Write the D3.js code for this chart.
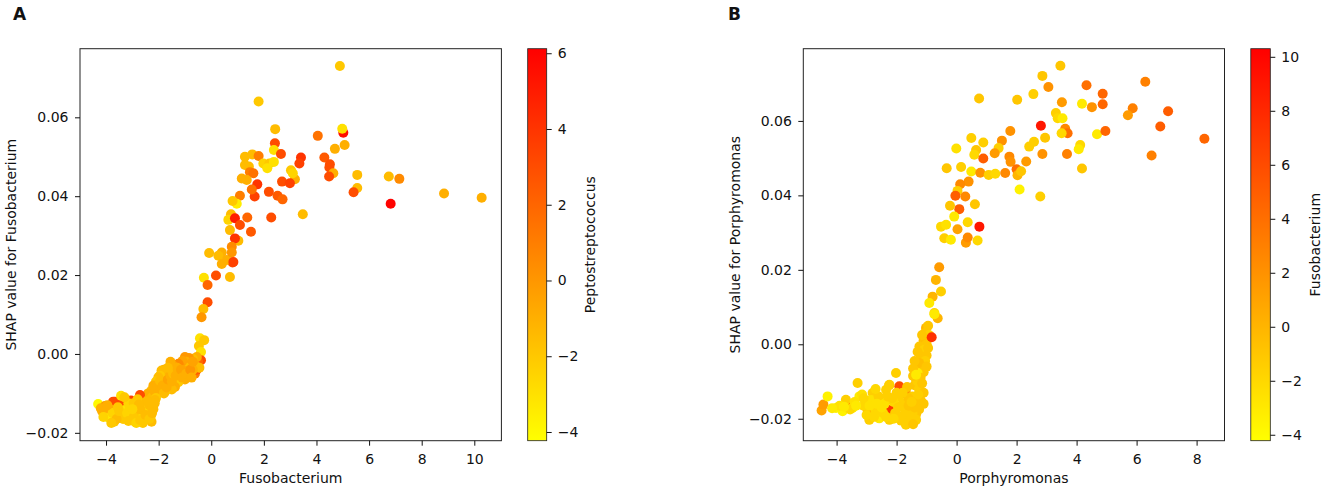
<!DOCTYPE html>
<html lang="en">
<head>
    <meta charset="UTF-8">
    <script src="https://d3js.org/d3.v7.min.js"></script>
    <title>SHAP dependence plots</title>
    <style>
        body { margin: 0; background: #fff; }
        text { font-family: "DejaVu Sans", sans-serif; fill: #111; }
    </style>
</head>
<body>
<div id="chart"></div>
<script>
    // panel A: [Fusobacterium, SHAP value for Fusobacterium, Peptostreptococcus]
    var fusoPoints = [
        [4.89,0.0730,-2],[1.80,0.0640,-2],[2.43,0.0570,-1.5],[5.02,0.0561,5.5],[4.98,0.0571,-3],
        [4.05,0.0553,1.5],[2.42,0.0534,3],[4.70,0.0520,-1],[5.07,0.0530,-1],[2.38,0.0517,-3],
        [2.65,0.0507,3],[1.28,0.0500,-1.5],[1.56,0.0506,-1.5],[1.80,0.0502,1],[3.41,0.0498,4],
        [3.35,0.0483,3.5],[4.30,0.0498,2.5],[4.51,0.0481,3],[4.49,0.0473,3],[4.64,0.0458,-1],
        [4.48,0.0450,3],[5.55,0.0454,-1.5],[5.55,0.0421,-1.5],[5.41,0.0410,3],[6.75,0.0450,-1.5],
        [7.15,0.0444,0.5],[6.82,0.0381,6],[8.85,0.0407,-1],[10.28,0.0396,-1],[3.48,0.0354,-1.5],
        [1.98,0.0483,-2.5],[2.21,0.0483,-2],[2.38,0.0487,-3],[2.13,0.0471,-3],[3.03,0.0466,-2],
        [3.18,0.0443,-1],[3.10,0.0458,-2.5],[2.69,0.0437,3],[2.99,0.0433,3.5],[1.75,0.0430,4],
        [1.65,0.0399,3.5],[2.19,0.0411,3],[2.52,0.0401,2.5],[2.71,0.0392,2],[1.37,0.0346,2],
        [2.28,0.0346,3],[1.51,0.0310,2.5],[1.28,0.0479,-1.5],[1.43,0.0475,-1.5],[1.47,0.0461,1],
        [1.60,0.0458,1.5],[1.16,0.0445,-1],[1.35,0.0441,-1],[1.54,0.0417,1.5],[1.09,0.0401,1],
        [0.97,0.0381,-3.5],[0.81,0.0388,-2],[0.75,0.0354,-1.5],[0.65,0.0340,-2.5],[0.90,0.0344,5],
        [1.09,0.0327,3],[0.71,0.0314,-1.5],[1.03,0.0287,-1.5],[0.90,0.0293,4],[0.78,0.0272,0.5],
        [0.81,0.0232,3],[0.40,0.0257,-1],[-0.08,0.0256,-1.5],[0.27,0.0249,-1.5],[0.40,0.0228,-1],
        [0.18,0.0199,3],[0.71,0.0195,-1.5],[-0.28,0.0193,-3],[0.59,0.0238,-1],[0.78,0.0257,0],
        [0.84,0.0233,3.5],[-0.14,0.0175,2],[-0.14,0.0131,3],[-0.30,0.0114,-1.5],[-0.37,0.0093,0],
        [-0.43,0.0040,-3],[-0.27,0.0035,-2],[-0.47,0.0020,-2],[-0.39,0.0005,-3],[-0.39,-0.0016,3],
        [-0.62,-0.0050,1],[-0.55,-0.0040,2.5],[-0.50,-0.0020,2],
        [-0.55,-0.0008,-1],[-0.70,-0.0012,-1.5],[-0.85,-0.0010,0],[-1.00,-0.0008,0],
        [-0.95,-0.0020,-1],[-0.78,-0.0025,-0.5],[-0.60,-0.0030,-1],[-0.45,-0.0035,-1.5],
        [-0.70,-0.0040,-1],[-0.88,-0.0035,-1.5],[-1.10,-0.0018,-0.5],[-1.20,-0.0030,0],[-1.05,-0.0042,-1],
        [-0.85,-0.0055,-1.5],[-1.25,-0.0025,0.5],[-1.35,-0.0040,-1],[-1.20,-0.0055,-1.5],[-1.00,-0.0065,-1],
        [-1.45,-0.0030,-0.5],[-1.55,-0.0045,-1],[-1.40,-0.0060,-1.5],[-1.25,-0.0072,-2],[-1.38,-0.0084,-1],
        [-1.60,-0.0062,-1],[-1.70,-0.0050,-1.5],[-1.80,-0.0040,-1],[-1.89,-0.0042,-1.5],[-1.95,-0.0055,-2],
        [-1.78,-0.0070,-1.5],[-1.60,-0.0078,-1],[-1.50,-0.0090,-1.5],[-2.01,-0.0059,-1.5],[-2.01,-0.0084,-1.5],
        [-2.10,-0.0070,-2],[-1.90,-0.0090,-1.5],[-2.27,-0.0092,-1.5],[-2.20,-0.0080,-1],[-1.75,-0.0095,-2],
        [-2.05,-0.0100,-1.5],[-2.40,-0.0100,-1],
        [-2.25,-0.0110,-1.5],[-2.15,-0.0095,-1],[-2.05,-0.0080,-1],[-1.95,-0.0068,-1.5],[-1.85,-0.0080,-1],
        [-1.80,-0.0100,-1.5],[-1.70,-0.0085,-1],[-1.65,-0.0065,-0.5],[-1.55,-0.0055,-1],[-1.50,-0.0070,-1],
        [-1.45,-0.0050,-1.5],[-1.35,-0.0055,-1],[-1.30,-0.0035,-1],[-1.15,-0.0040,-0.5],[-1.10,-0.0060,-1],
        [-0.95,-0.0050,-1],[-0.80,-0.0040,0],[-0.70,-0.0020,-0.5],[-0.75,-0.0060,-1],
        [-1.55,-0.0020,-1],[-1.65,-0.0035,-1.5],[-2.30,-0.0120,-1.5],[-2.10,-0.0112,-2],
        [-3.66,-0.0121,3.5],[-3.22,-0.0119,4],[-2.84,-0.0142,3],[-2.71,-0.0104,3],[-3.73,-0.0121,3],
        [-2.90,-0.0135,2.5],[-3.40,-0.0125,3],[-3.05,-0.0118,3.5],
        [-4.30,-0.0127,-4],[-4.04,-0.0132,0],[-3.92,-0.0161,-3.5],[-3.69,-0.0172,-2],
        [-3.43,-0.0106,-3],[-3.28,-0.0142,-3],
        [-2.90,-0.0172,-2],[-2.46,-0.0134,-1.5],[-2.27,-0.0172,-1.5],[-2.14,-0.0117,-1.5],[-3.15,-0.0125,-2.5],
        [-3.03,-0.0155,-2],[-2.65,-0.0159,-1.5],[-2.40,-0.0147,-2],[-3.85,-0.0140,-1],[-3.75,-0.0150,-2.5],
        [-3.55,-0.0135,-2],[-3.45,-0.0155,-3],[-3.35,-0.0165,-2],[-3.10,-0.0140,-2.5],[-2.95,-0.0125,-2],
        [-2.80,-0.0115,-2],[-2.75,-0.0160,-2.5],[-2.60,-0.0125,-2],[-2.55,-0.0145,-2.5],[-2.50,-0.0165,-2],
        [-2.35,-0.0130,-1.5],[-2.30,-0.0158,-2],[-2.20,-0.0140,-1.5],[-2.15,-0.0125,-1.5],[-3.60,-0.0165,-1.5],
        [-4.15,-0.0145,-1],[-3.30,-0.0110,-2],[-2.95,-0.0150,-1.5],[-2.60,-0.0175,-2],[-2.70,-0.0140,-1.5],
        [-4.20,-0.0138,-1],[-4.10,-0.0160,-2.5],[-3.95,-0.0130,-1],[-3.80,-0.0175,-2],[-3.50,-0.0145,-2],
        [-3.20,-0.0150,-2.5],[-3.15,-0.0170,-2],[-2.95,-0.0160,-2],[-2.85,-0.0175,-2.5],
        [-2.70,-0.0168,-2],[-2.50,-0.0155,-1.5],[-2.45,-0.0120,-1.5],[-2.35,-0.0165,-2],[-2.25,-0.0150,-1.5],
        [-2.75,-0.0128,-1.5],[-3.00,-0.0140,-2.5]
    ];

    // panel B: [Porphyromonas, SHAP value for Porphyromonas, Fusobacterium]
    var porphPoints = [
        [3.46,0.0748,-1],[2.86,0.0721,-1],[3.06,0.0691,2],[4.33,0.0696,4],[6.29,0.0705,3],
        [4.87,0.0673,4.5],[4.87,0.0645,4.5],[0.75,0.0660,-1],[2.02,0.0657,-1],[2.56,0.0672,-1.5],
        [4.18,0.0646,-3],[4.51,0.0637,2],[5.87,0.0634,3],[5.71,0.0615,1.5],[7.05,0.0626,5],
        [6.79,0.0585,5],[8.26,0.0552,4.5],[6.50,0.0507,3],[3.51,0.0650,1.5],[3.31,0.0621,-1.5],
        [3.37,0.0607,-2],[3.53,0.0607,-3],[2.81,0.0587,9],[3.62,0.0579,2.5],[3.70,0.0567,4],
        [3.50,0.0567,-2],[4.68,0.0564,-3],[4.96,0.0573,4.5],[1.79,0.0573,2],[1.51,0.0547,2],
        [1.40,0.0527,-1.5],[2.95,0.0555,-1],[2.58,0.0544,-1.5],[2.42,0.0531,-1.5],[4.12,0.0535,-2],
        [4.07,0.0524,-3],[3.68,0.0511,3],[2.86,0.0511,2],[4.18,0.0472,-1],[0.89,0.0542,-1.5],
        [0.49,0.0554,-1.5],[-0.01,0.0526,-2.5],[0.65,0.0522,-1],[0.59,0.0509,-2],[1.27,0.0513,1.5],
        [0.89,0.0499,5],[1.76,0.0504,2.5],[1.80,0.0490,2],[2.32,0.0491,1.5],[-0.33,0.0473,-1],
        [0.15,0.0476,-1.5],[0.49,0.0464,-3],[0.79,0.0461,2],[1.07,0.0455,-1.5],[1.29,0.0458,-2],
        [1.62,0.0460,2.5],[2.00,0.0470,4],[2.03,0.0454,0],[2.15,0.0465,-1],[2.10,0.0416,-3.5],
        [2.79,0.0397,-1.5],[0.40,0.0437,2],[0.12,0.0430,2.5],[0.03,0.0412,-1.5],[-0.04,0.0399,5],
        [0.29,0.0397,2.5],[0.09,0.0363,5],[-0.22,0.0372,-1],[0.61,0.0376,-1],[-0.08,0.0343,-3],
        [0.37,0.0328,-2],[0.76,0.0316,9],[-0.52,0.0316,-2],[-0.35,0.0321,-2.5],[0.03,0.0309,1],
        [-0.41,0.0285,-1.5],[-0.19,0.0281,-3],[0.31,0.0273,1.5],[0.37,0.0287,2.5],[0.70,0.0279,-2],
        [-0.58,0.0207,1.5],[-0.69,0.0173,0],[-0.52,0.0142,-1.5],[-0.80,0.0128,0],[-0.91,0.0111,-3],
        [-0.74,0.0084,-1.5],[-0.63,0.0070,0],[-0.74,0.0081,-3],[-1.02,0.0044,0],[-0.95,0.0050,-1],
        [-1.05,0.0030,-1],[-0.92,0.0025,-1.5],[-1.10,0.0010,-0.5],[-1.00,0.0000,-1],[-1.24,-0.0006,-1],
        [-1.08,-0.0015,-1.5],[-1.19,-0.0033,-1],[-1.00,-0.0030,-1],[-1.15,-0.0059,-1],[-1.05,-0.0045,-1.5],
        [-1.25,-0.0050,-0.5],[-1.10,-0.0075,-1],[-1.30,-0.0077,-3],[-1.35,-0.0095,-1],[-1.20,-0.0090,-1],
        [-1.40,-0.0110,-1],[-1.25,-0.0120,-1.5],[-2.02,-0.0077,-1.5],[-3.30,-0.0104,-1.5],
        [-1.15,0.0025,-1],[-0.95,-0.0010,-1],[-1.30,-0.0020,-1],[-1.40,-0.0045,-1],[-1.45,-0.0065,-1],
        [-1.00,-0.0060,-1],[-1.30,-0.0100,-1.5],[-1.15,-0.0105,-1],[-1.45,-0.0085,-1],[-1.35,-0.0082,-3],
        [-1.10,-0.0130,-1],[-1.20,-0.0150,-1],[-1.25,-0.0175,-1],[-1.35,-0.0188,-1],[-1.10,-0.0160,-1],
        [-1.55,-0.0180,5],[-2.40,-0.0175,6],[-2.19,-0.0176,7],[-3.63,-0.0162,4],[-1.91,-0.0113,6],
        [-4.50,-0.0178,1],[-4.44,-0.0162,1.5],[-4.30,-0.0140,-3.5],[-4.02,-0.0171,-3.5],[-3.80,-0.0180,-3.5],
        [-2.97,-0.0176,1],[-2.91,-0.0203,-1.5],[-2.24,-0.0203,-1.5],[-1.69,-0.0216,-1.5],
        [-1.58,-0.0167,2],[-3.69,-0.0149,-1.5],[-3.24,-0.0140,-3],
        [-2.80,-0.0131,-1.5],[-2.58,-0.0154,-3],[-2.35,-0.0122,-1.5],[-1.91,-0.0140,-1.5],[-1.69,-0.0131,2],
        [-1.47,-0.0140,-1.5],[-1.91,-0.0194,-1.5],[-2.58,-0.0199,-3],[-3.02,-0.0158,-1.5],[-3.47,-0.0171,-3],
        [-1.47,-0.0185,-1.5],[-1.35,-0.0203,-1.5],[-3.90,-0.0165,-2.5],[-3.55,-0.0175,-2],[-3.40,-0.0155,-2.5],
        [-3.10,-0.0165,-2],[-3.00,-0.0190,-2],[-2.85,-0.0150,-2.5],[-2.70,-0.0180,-2],[-2.60,-0.0140,-1.5],
        [-2.45,-0.0185,-2],[-2.40,-0.0160,-2.5],[-2.30,-0.0140,-1.5],[-2.10,-0.0155,-2],[-2.05,-0.0185,-1.5],
        [-2.00,-0.0130,-1.5],[-1.80,-0.0160,-1.5],[-1.75,-0.0190,-1.5],[-1.60,-0.0145,-1],[-1.55,-0.0200,-1.5],
        [-1.40,-0.0170,-1],[-1.30,-0.0150,-1],[-1.28,-0.0135,-1.5],[-2.25,-0.0110,-1.5],[-2.70,-0.0120,-2],
        [-3.15,-0.0135,-2.5],[-1.65,-0.0115,-1],
        [-2.24,-0.0109,-1.5],[-3.10,-0.0145,-2],[-2.90,-0.0165,-2.5],[-2.75,-0.0195,-2],[-2.50,-0.0170,-2.5],
        [-2.35,-0.0195,-2],[-2.15,-0.0145,-1.5],[-1.95,-0.0170,-1.5],[-1.85,-0.0205,-1.5],[-1.70,-0.0180,-1.5],
        [-1.60,-0.0165,-1],[-1.50,-0.0155,-1.5],[-1.45,-0.0215,-1],[-2.65,-0.0160,-2.5],[-3.35,-0.0165,-3],
        [-3.75,-0.0168,-3],[-4.15,-0.0172,-3],[-2.10,-0.0200,-2],[-1.80,-0.0130,-1.5],
        [-0.83,0.0019,7.5]
    ];

    var fusoXTicks = [-4, -2, 0, 2, 4, 6, 8, 10];
    var porphXTicks = [-4, -2, 0, 2, 4, 6, 8];
    var shapTicks = [-0.02, 0, 0.02, 0.04, 0.06];
    var peptoColorTicks = [-4, -2, 0, 2, 4, 6];
    var fusoColorTicks = [-4, -2, 0, 2, 4, 6, 8, 10];

    var top_ = 48.7, bottom = 440.7;

    var svg = d3.select("#chart").append("svg")
                .attr("width", 1325).attr("height", 490);

    svg.append("rect").attr("width", 1325).attr("height", 490).attr("fill", "#fff");

    function styleAxis(g) {
        g.select(".domain").remove();
        g.selectAll(".tick line").attr("stroke", "#111").attr("stroke-width", 1);
        g.selectAll("text").attr("font-size", 14).attr("font-family", "DejaVu Sans").attr("fill", "#111");
    }

    function drawPanel(p) {
        var x = d3.scaleLinear().domain(p.xDomain).range([p.left, p.right]);
        var y = d3.scaleLinear().domain(p.yDomain).range([bottom, top_]);
        var c = d3.scaleLinear().domain(p.cDomain).range(["#ffff00", "#ff0000"]);

        // points
        svg.append("g").selectAll("circle").data(p.points).enter().append("circle")
            .attr("cx", d => x(d[0]))
            .attr("cy", d => y(d[1]))
            .attr("r", 5)
            .attr("fill", d => c(d[2]));

        // frame
        svg.append("rect")
            .attr("x", p.left).attr("y", top_)
            .attr("width", p.right - p.left).attr("height", bottom - top_)
            .attr("fill", "none").attr("stroke", "#222").attr("stroke-width", 1);

        svg.append("g").attr("transform", "translate(0," + bottom + ")")
            .call(d3.axisBottom(x).tickValues(p.xTicks).tickFormat(d3.format("d")).tickSize(5).tickPadding(8))
            .call(styleAxis);

        svg.append("g").attr("transform", "translate(" + p.left + ",0)")
            .call(d3.axisLeft(y).tickValues(shapTicks).tickFormat(d3.format(".2f")).tickSize(5).tickPadding(6.5))
            .call(styleAxis);

        // axis titles
        svg.append("text").attr("x", (p.left + p.right) / 2).attr("y", 483)
            .attr("text-anchor", "middle").attr("font-size", 14).text(p.xLabel);
        svg.append("text")
            .attr("transform", "translate(" + p.yLabelX + "," + ((top_ + bottom) / 2) + ") rotate(-90)")
            .attr("text-anchor", "middle").attr("font-size", 14).text(p.yLabel);

        // colour bar
        var gradId = "grad" + p.name;
        var grad = svg.append("defs").append("linearGradient").attr("id", gradId)
            .attr("x1", 0).attr("y1", 1).attr("x2", 0).attr("y2", 0);
        grad.append("stop").attr("offset", "0%").attr("stop-color", c(p.cDomain[0]));
        grad.append("stop").attr("offset", "100%").attr("stop-color", c(p.cDomain[1]));

        svg.append("rect")
            .attr("x", p.barX).attr("y", top_)
            .attr("width", p.barW).attr("height", bottom - top_)
            .attr("fill", "url(#" + gradId + ")")
            .attr("stroke", "#222").attr("stroke-width", 0.8);

        var cy = d3.scaleLinear().domain(p.cDomain).range([bottom, top_]);
        svg.append("g").attr("transform", "translate(" + (p.barX + p.barW) + ",0)")
            .call(d3.axisRight(cy).tickValues(p.cTicks).tickFormat(d3.format("d")).tickSize(5).tickPadding(6))
            .call(styleAxis);

        svg.append("text")
            .attr("transform", "translate(" + p.cLabelX + "," + ((top_ + bottom) / 2) + ") rotate(-90)")
            .attr("text-anchor", "middle").attr("font-size", 14).text(p.cLabel);

        // panel letter
        svg.append("text").attr("x", p.letterX).attr("y", 20)
            .attr("font-size", 17).attr("font-weight", "bold").text(p.name);
    }

    drawPanel({
        name: "A", points: fusoPoints,
        left: 80, right: 501.4,
        xDomain: [-4.99, 11.03], yDomain: [-0.0220, 0.0774], cDomain: [-4.23, 6.12],
        xTicks: fusoXTicks, cTicks: peptoColorTicks,
        barX: 527.7, barW: 19,
        xLabel: "Fusobacterium", yLabel: "SHAP value for Fusobacterium", cLabel: "Peptostreptococcus",
        yLabelX: 16, cLabelX: 595, letterX: 13
    });

    drawPanel({
        name: "B", points: porphPoints,
        left: 803.3, right: 1224.5,
        xDomain: [-5.11, 8.93], yDomain: [-0.0259, 0.0794], cDomain: [-4.22, 10.30],
        xTicks: porphXTicks, cTicks: fusoColorTicks,
        barX: 1250.8, barW: 19.5,
        xLabel: "Porphyromonas", yLabel: "SHAP value for Porphyromonas", cLabel: "Fusobacterium",
        yLabelX: 739.5, cLabelX: 1320, letterX: 728
    });
</script>
</body>
</html>
